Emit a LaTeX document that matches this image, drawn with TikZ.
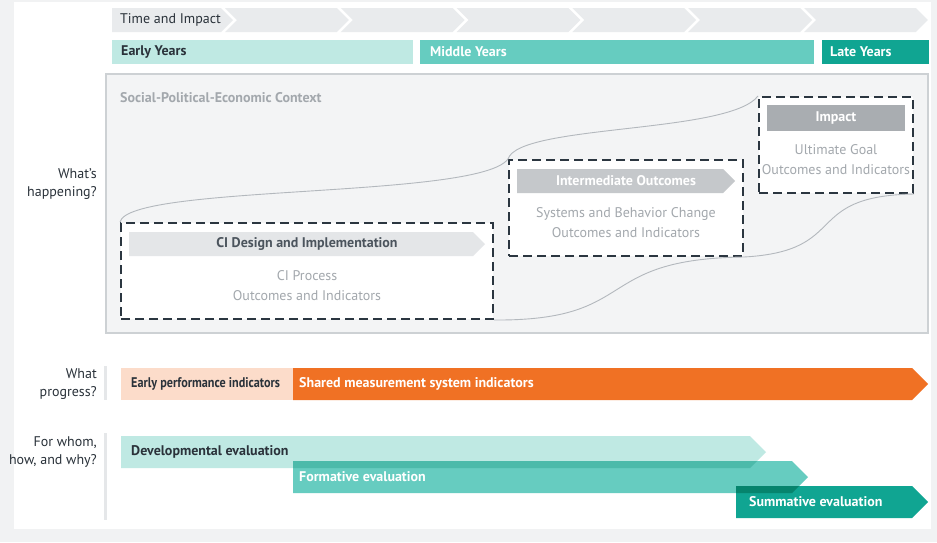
\documentclass[tikz,border=0pt]{standalone}
\usepackage{fontspec}
\setmainfont{PT Sans}
\newfontfamily\narrowsans[FakeStretch=0.87]{PT Sans}
\usetikzlibrary{calc}
\definecolor{PageGrey}{HTML}{F1F2F3}
\definecolor{ChevGrey}{HTML}{E9EBED}
\definecolor{InkDark}{HTML}{2A323A}
\definecolor{TealLight}{HTML}{BFE9E3}
\definecolor{TealMid}{HTML}{66CCC0}
\definecolor{TealDeep}{HTML}{10A592}
\definecolor{CtxFill}{HTML}{F3F4F5}
\definecolor{CtxLine}{HTML}{CDD1D4}
\definecolor{DashInk}{HTML}{2B3640}
\definecolor{CurveGrey}{HTML}{B3B8BD}
\definecolor{BarPale}{HTML}{E4E6E8}
\definecolor{BarMid}{HTML}{C5C8CB}
\definecolor{BarDark}{HTML}{A9ADB1}
\definecolor{SubGrey}{HTML}{A3A8AD}
\definecolor{Peach}{HTML}{FCDCCA}
\definecolor{Tangerine}{HTML}{F07124}
\definecolor{RuleGrey}{HTML}{E5E7E9}
% arrow bar: style, left x, body end x, top y, bottom y
\newcommand{\arrowbar}[5]{%
  \fill[#1] (#2,#4) -- (#3,#4) -- ({#3+(#5-#4)/2},{(#4+#5)/2}) -- (#3,#5) -- (#2,#5) -- cycle;}

\begin{document}
\begin{tikzpicture}[x=1pt,y=-1pt,
    lbl/.style={inner sep=0pt,font=\fontsize{14}{14}\selectfont\bfseries},
    sub/.style={inner sep=0pt,SubGrey,font=\fontsize{14}{20}\selectfont,align=center},
    ask/.style={inner sep=0pt,InkDark,font=\fontsize{14}{18}\selectfont,align=right,anchor=east},
    stagebox/.style={draw=DashInk,line width=2pt,dash pattern=on 9pt off 5pt,fill=white,
      inner sep=0pt,minimum height=96pt},
    link/.style={CurveGrey,line width=0.9pt}]
  \useasboundingbox (0,0) rectangle (937,542);
  \fill[PageGrey] (0,0) rectangle (937,542);
  \fill[white] (14,2) rectangle (931,529);

  % time chevrons
  \fill[ChevGrey] (112,8) -- (221,8) -- (233,20) -- (221,32) -- (112,32) -- cycle;
  \foreach \k in {1,...,6}{
    \pgfmathsetmacro\tip{233+115.8*\k}
    \pgfmathsetmacro\lft{233+115.8*(\k-1)-8}
    \fill[ChevGrey] (\lft,8) -- (\tip-12,8) -- (\tip,20) -- (\tip-12,32) -- (\lft,32) -- (\lft+12,20) -- cycle;
  }
  \node[inner sep=0pt,anchor=west,InkDark,font=\fontsize{14}{14}\selectfont] (time) at (120,20) {Time and Impact};

  % years
  \fill[TealLight] (112,40) rectangle (413,64);
  \fill[TealMid] (420,40) rectangle (814,64);
  \fill[TealDeep] (822,40) rectangle (929,64);
  \node[lbl,anchor=west,InkDark] (early) at (121,52) {Early Years};
  \node[lbl,anchor=west,white] (middle) at (430,52) {Middle Years};
  \node[lbl,anchor=west,white] (late) at (830,52) {Late Years};

  % context
  \draw[CtxLine,fill=CtxFill,line width=2pt] (106,74) rectangle (928,333);
  \node[lbl,anchor=west,SubGrey] (ctx) at (120,98) {Social-Political-Economic Context};
  \node[ask] (happen) at (97,184) {What’s\\happening?};

  \node[stagebox,minimum width=372pt] (ci) at (307,271) {};
  \node[stagebox,minimum width=234pt] (mid) at (626,208) {};
  \node[stagebox,minimum width=154pt] (imp) at (836,145) {};

  \draw[link] (ci.north west) .. controls ($(ci.north west)+(9,-38)$) and ($(mid.north west)+(-29,40)$) .. (mid.north west);
  \draw[link] (mid.north west) .. controls ($(mid.north west)+(11,-35)$) and ($(imp.north west)+(-29,38)$) .. (imp.north west);
  \draw[link] (ci.south east) .. controls ($(ci.south east)+(147,1)$) and ($(mid.south east)+(-153,2)$) .. (mid.south east);
  \draw[link] (mid.south east) .. controls ($(mid.south east)+(107,-6)$) and ($(imp.south east)+(-113,2)$) .. (imp.south east);

  \arrowbar{BarPale}{129}{473}{232}{256}
  \node[lbl,DashInk!85] (ciname) at (307,244) {CI Design and Implementation};
  \node[sub] (citext) at (307,286) {CI Process\\Outcomes and Indicators};

  \arrowbar{BarMid}{517}{723}{169}{193}
  \node[lbl,white] (midname) at (626,181) {Intermediate Outcomes};
  \node[sub] (midtext) at (626,223) {Systems and Behavior Change\\Outcomes and Indicators};

  \fill[BarDark] (767,105) rectangle (905,131);
  \node[lbl,white] (impname) at (836,118) {Impact};
  \node[sub] (imptext) at (836,160) {Ultimate Goal\\Outcomes and Indicators};

  % progress
  \fill[RuleGrey] (104,366) rectangle (107,400);
  \node[ask] (progress) at (97,384) {What\\progress?};
  \fill[Peach] (121,368) rectangle (293,400);
  \arrowbar{Tangerine}{293}{912}{368}{400}
  \node[lbl,anchor=west,InkDark,font=\fontsize{14}{14}\narrowsans\bfseries] (epi) at (131,384) {Early performance indicators};
  \node[lbl,anchor=west,white] (smsi) at (299,384) {Shared measurement system indicators};

  % evaluation
  \fill[RuleGrey] (104,433) rectangle (107,520);
  \node[ask] (whom) at (97,452) {For whom,\\how, and why?};
  \arrowbar{TealLight}{121}{750}{436}{468}
  \begin{scope}[blend mode=multiply]
    \arrowbar{TealMid}{293}{792}{461}{493}
    \arrowbar{TealDeep}{736}{912}{486}{518}
  \end{scope}
  \node[lbl,anchor=west,InkDark] (dev) at (131,452) {Developmental evaluation};
  \node[lbl,anchor=west,white] (form) at (299,477) {Formative evaluation};
  \node[lbl,anchor=west,white] (summ) at (749,502) {Summative evaluation};
\end{tikzpicture}
\end{document}
